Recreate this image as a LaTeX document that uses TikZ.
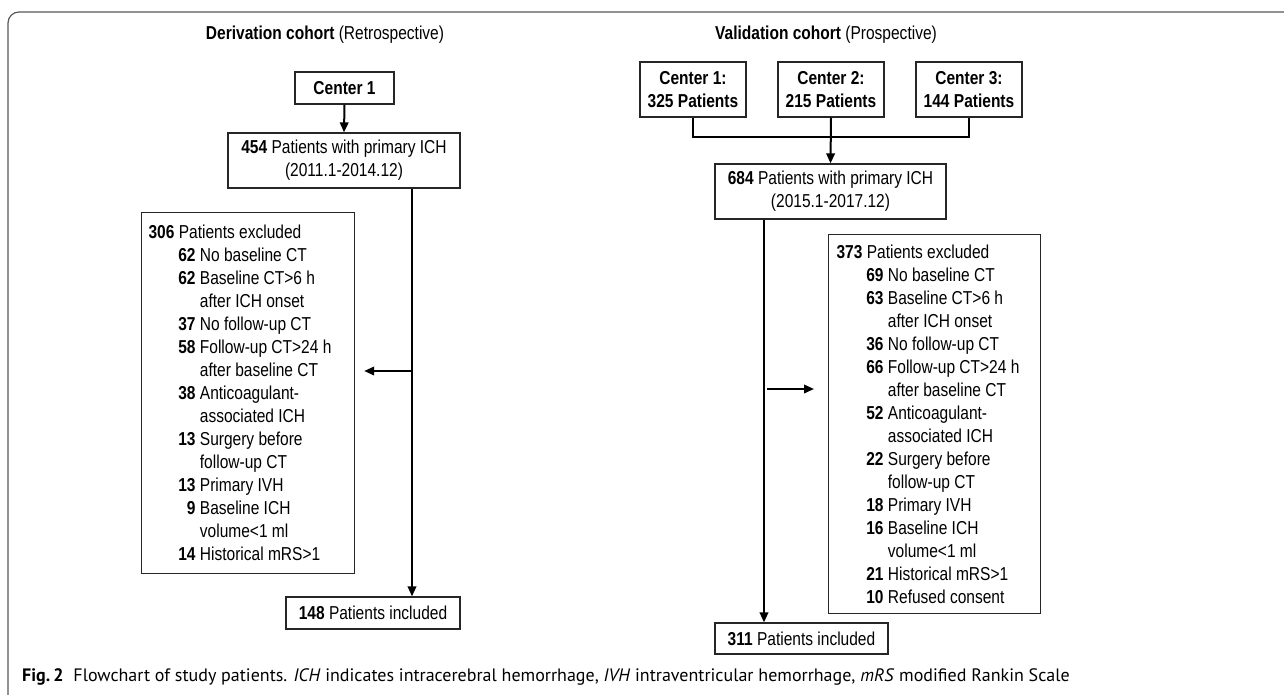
\documentclass[tikz,border=0pt]{standalone}
\usepackage{fontspec}
\setmainfont[FakeStretch=0.83]{Liberation Sans}
\newfontfamily\capfont{PT Sans}
\usetikzlibrary{arrows.meta,calc}
\newcommand{\exi}[2]{\makebox[47pt][r]{\textbf{#1}}\ #2}
\newcommand{\exc}[1]{\hspace*{47pt}\ #1}
\begin{document}
\begin{tikzpicture}[x=1pt,y=-1pt,
  txt/.style={font=\fontsize{18.7}{23}\selectfont},
  box/.style={draw=black!85, line width=1.2pt, inner sep=0pt, align=center, txt},
  exbox/.style={draw=black!85, line width=1.2pt, inner ysep=0pt, align=flush left, txt, anchor=north west},
  conn/.style={line width=2pt, black},
  arr/.style={conn, -{Triangle[length=10pt,width=8.5pt]}},
  frame/.style={draw=black!65, line width=1.2pt, rounded corners=11pt}
]
\clip (0,0) rectangle (1284,695);
\fill[white] (0,0) rectangle (1284,695);
\draw[frame] (1300,12) -- (8,12) -- (8,720);

% titles
\node[txt] (t1) at (325,35) {\textbf{Derivation cohort} (Retrospective)};
\node[txt] (t2) at (826,35) {\textbf{Validation cohort} (Prospective)};

% derivation
\node[box, minimum width=99, minimum height=32, font=\fontsize{18.7}{23}\selectfont\bfseries] (c0) at (344.5,88) {Center 1};
\node[box, minimum width=232, minimum height=55] (b454) at (344,160.5) {\textbf{454} Patients with primary ICH\\(2011.1-2014.12)};
\node[exbox, minimum width=213, minimum height=361, text width=199, inner xsep=7] (ex1) at (141,212) {%
\textbf{306} Patients excluded\\
\exi{62}{No baseline CT}\\
\exi{62}{Baseline CT>6 h}\\
\exc{after ICH onset}\\
\exi{37}{No follow-up CT}\\
\exi{58}{Follow-up CT>24 h}\\
\exc{after baseline CT}\\
\exi{38}{Anticoagulant-}\\
\exc{associated ICH}\\
\exi{13}{Surgery before}\\
\exc{follow-up CT}\\
\exi{13}{Primary IVH}\\
\exi{9}{Baseline ICH}\\
\exc{volume<1 ml}\\
\exi{14}{Historical mRS>1}};
\node[box, minimum width=174, minimum height=32] (b148) at (373,613) {\textbf{148} Patients included};

% validation
\node[box, minimum width=106, minimum height=55, font=\fontsize{18.7}{23}\selectfont\bfseries] (c1) at (693,89.5) {Center 1:\\325 Patients};
\node[box, minimum width=106, minimum height=55, font=\fontsize{18.7}{23}\selectfont\bfseries] (c2) at (831,89.5) {Center 2:\\215 Patients};
\node[box, minimum width=106, minimum height=55, font=\fontsize{18.7}{23}\selectfont\bfseries] (c3) at (969,89.5) {Center 3:\\144 Patients};
\node[box, minimum width=231, minimum height=55] (b684) at (830.5,191.5) {\textbf{684} Patients with primary ICH\\(2015.1-2017.12)};
\node[exbox, minimum width=212, minimum height=379, text width=196, inner xsep=8] (ex2) at (828,234) {%
\textbf{373} Patients excluded\\
\exi{69}{No baseline CT}\\
\exi{63}{Baseline CT>6 h}\\
\exc{after ICH onset}\\
\exi{36}{No follow-up CT}\\
\exi{66}{Follow-up CT>24 h}\\
\exc{after baseline CT}\\
\exi{52}{Anticoagulant-}\\
\exc{associated ICH}\\
\exi{22}{Surgery before}\\
\exc{follow-up CT}\\
\exi{18}{Primary IVH}\\
\exi{16}{Baseline ICH}\\
\exc{volume<1 ml}\\
\exi{21}{Historical mRS>1}\\
\exi{10}{Refused consent}};
\node[box, minimum width=173, minimum height=31] (b311) at (801.5,638.5) {\textbf{311} Patients included};

% connectors derivation
\coordinate (tL) at (412,0);
\coordinate (bL) at (0,371);
\draw[arr] (c0.south) -- (b454.north);
\draw[arr] (b454.south -| tL) -- (b148.north -| tL);
\draw[arr, shorten >=9pt] (tL |- bL) -- (ex1.east |- bL);

% connectors validation
\coordinate (tR) at (764,0);
\coordinate (bR) at (0,389);
\draw[conn] (c1.south) -- ++(0,19) -| (c3.south);
\draw[arr] (c2.south) -- (b684.north);
\draw[arr] (b684.south -| tR) -- (b311.north -| tR);
\draw[arr, shorten <=3pt, shorten >=14pt] (tR |- bR) -- (ex2.west |- bR);

% caption
\node[anchor=west, inner sep=0pt, font=\capfont\fontsize{18}{21}\selectfont] (cap) at (22,677)
 {\textbf{Fig.\,2}\hspace{10pt}Flowchart of study patients. \textit{ICH} indicates intracerebral hemorrhage, \textit{IVH} intraventricular hemorrhage, \textit{mRS} modified Rankin Scale};
\end{tikzpicture}
\end{document}
